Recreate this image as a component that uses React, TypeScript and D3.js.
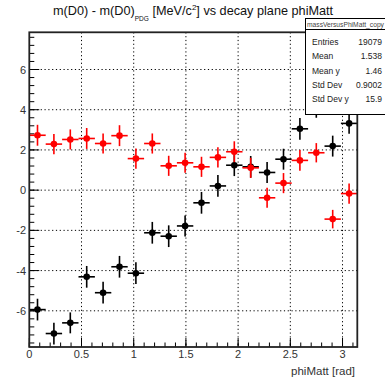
import React from "react";
import * as d3 from "d3";

const W = 385;
const H = 379;
const nBins = 20;
const binCenters = d3.range(nBins).map((i) => ((i + 0.5) * Math.PI) / nBins);

const redValues = [2.73, 2.29, 2.52, 2.57, 2.32, 2.71, 1.57, 2.32, 1.21, 1.36, 1.16, 1.63, 1.91, 1.11, -0.38, 0.35, 1.48, 1.86, -1.44, -0.17];
const redErrors = [0.52, 0.5, 0.5, 0.52, 0.5, 0.52, 0.5, 0.5, 0.5, 0.5, 0.5, 0.5, 0.52, 0.5, 0.5, 0.5, 0.52, 0.48, 0.46, 0.5];
const blackValues = [-5.94, -7.13, -6.6, -4.31, -5.1, -3.81, -4.13, -2.12, -2.29, -1.78, -0.63, 0.21, 1.24, 1.16, 0.88, 1.54, 3.05, 4.2, 2.19, 3.32];
const blackErrors = [0.54, 0.54, 0.52, 0.54, 0.54, 0.54, 0.54, 0.54, 0.54, 0.52, 0.54, 0.54, 0.54, 0.54, 0.52, 0.52, 0.54, 0.6, 0.52, 0.52];

const xTicks = [0, 0.5, 1, 1.5, 2, 2.5, 3];
const yTicks = [-6, -4, -2, 0, 2, 4, 6];

const statLabels = ["Entries", "Mean", "Mean y", "Std Dev", "Std Dev y"];
const statValues = ["19079", "1.538", "1.46", "0.9002", "15.9"];

const FONT = "'Liberation Sans', Arial, Helvetica, sans-serif";

export default function App() {
  const L = 29.3, R = 357.3, T = 32.3, B = 347;
  const x = d3.scaleLinear().domain([0, Math.PI]).range([L, R]);
  const y = d3.scaleLinear().domain([-7.8, 7.85]).range([B, T]);
  const halfBin = Math.PI / nBins / 2;

  const xMinor = d3.range(0, 3.15, 0.1).filter((v) => v <= Math.PI);
  const yMinor = d3.range(-7.6, 7.85, 0.4);

  const series = [
    { vals: blackValues, errs: blackErrors, color: "#000000" },
    { vals: redValues, errs: redErrors, color: "#ff0000" },
  ];

  return (
    <svg width={W} height={H} style={{ position: "absolute", left: 0, top: 0, background: "#fff" }}>
      <rect x={0} y={0} width={W} height={H} fill="#fff" />
      {/* grid */}
      {xTicks.filter((t) => t > 0).map((t) => (
        <line key={"gx" + t} x1={x(t)} x2={x(t)} y1={T} y2={B} stroke="#000" strokeWidth={1} strokeDasharray="1.2,2.6" />
      ))}
      {yTicks.map((t) => (
        <line key={"gy" + t} x1={L} x2={R} y1={y(t)} y2={y(t)} stroke="#000" strokeWidth={1} strokeDasharray="1.2,2.6" />
      ))}
      {/* ticks */}
      {xMinor.map((t, i) => (
        <line key={"xm" + i} x1={x(t)} x2={x(t)} y1={B} y2={B - 4.5} stroke="#000" strokeWidth={1} />
      ))}
      {xTicks.map((t) => (
        <line key={"xM" + t} x1={x(t)} x2={x(t)} y1={B} y2={B - 9} stroke="#000" strokeWidth={1} />
      ))}
      {yMinor.map((t, i) => (
        <line key={"ym" + i} x1={L} x2={L + 5} y1={y(t)} y2={y(t)} stroke="#000" strokeWidth={1} />
      ))}
      {yTicks.map((t) => (
        <line key={"yM" + t} x1={L} x2={L + 10} y1={y(t)} y2={y(t)} stroke="#000" strokeWidth={1} />
      ))}
      {/* data */}
      {series.map((s, si) => (
        <g key={"s" + si}>
          {s.vals.map((v, i) => (
            <g key={i}>
              <line x1={x(binCenters[i] - halfBin)} x2={x(binCenters[i] + halfBin)} y1={y(v)} y2={y(v)} stroke={s.color} strokeWidth={1.6} />
              <line x1={x(binCenters[i])} x2={x(binCenters[i])} y1={y(v - s.errs[i])} y2={y(v + s.errs[i])} stroke={s.color} strokeWidth={1.6} />
              <circle cx={x(binCenters[i])} cy={y(v)} r={3.3} fill={s.color} />
            </g>
          ))}
        </g>
      ))}
      {/* frame */}
      <rect x={L} y={T} width={R - L} height={B - T} fill="none" stroke="#222" strokeWidth={1.8} />
      {/* tick labels */}
      {xTicks.map((t) => (
        <text key={"xl" + t} x={x(t)} y={358} fontFamily={FONT} fontSize={11} fill="#333" textAnchor="middle">
          {d3.format("")(t)}
        </text>
      ))}
      {yTicks.map((t) => (
        <text key={"yl" + t} x={26} y={y(t) + 4} fontFamily={FONT} fontSize={11} fill="#333" textAnchor="end">
          {t}
        </text>
      ))}
      <text x={355} y={375} fontFamily={FONT} fontSize={11.5} fill="#333" textAnchor="end">phiMatt [rad]</text>
      {/* title */}
      <text x={53} y={15} fontFamily={FONT} fontSize={12.7} fill="#111">
        <tspan>m(D0) - m(D0)</tspan>
        <tspan fontSize={6.5} dy={6}>PDG</tspan>
        <tspan dy={-6}> [MeV/c</tspan>
        <tspan fontSize={8} dy={-5}>2</tspan>
        <tspan dy={5}>] vs decay plane phiMatt</tspan>
      </text>
      {/* stats box */}
      <rect x={305.5} y={18.5} width={82} height={96} fill="#fff" stroke="#000" strokeWidth={1} />
      <line x1={305.5} x2={385} y1={29.5} y2={29.5} stroke="#000" strokeWidth={1} />
      <text x={345.5} y={27} fontFamily={FONT} fontSize={6.7} fill="#444" textAnchor="middle">
        massVersusPhiMatt_copy
      </text>
      {statLabels.map((lab, i) => (
        <g key={lab}>
          <text x={312} y={45 + i * 14.3} fontFamily={FONT} fontSize={8.5} fill="#222">{lab}</text>
          <text x={382} y={45 + i * 14.3} fontFamily={FONT} fontSize={8.5} fill="#222" textAnchor="end">{statValues[i]}</text>
        </g>
      ))}
    </svg>
  );
}
